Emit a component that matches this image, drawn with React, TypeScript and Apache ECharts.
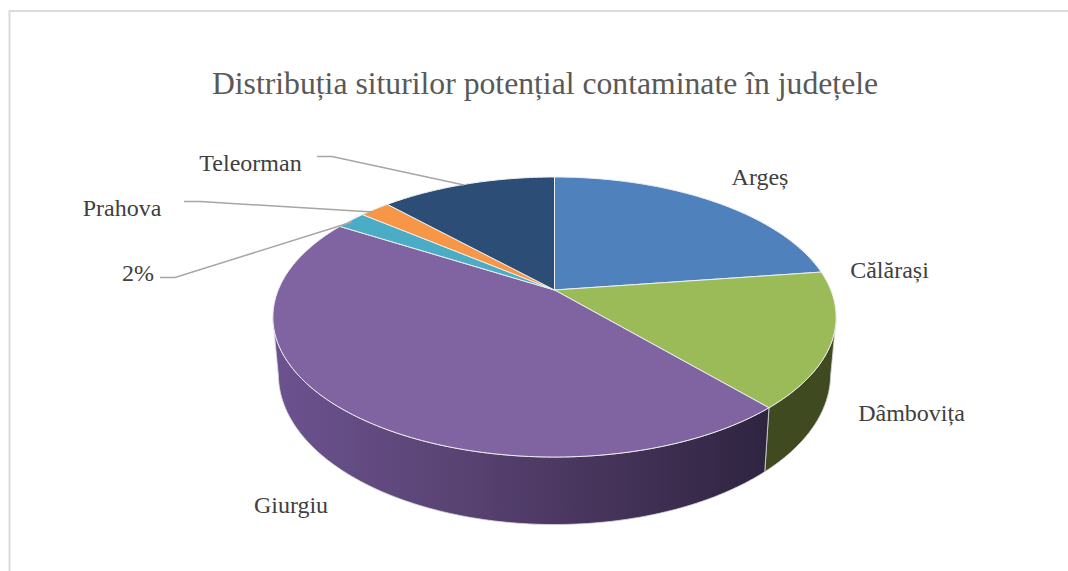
import React, { useEffect, useRef } from "react";
import * as echarts from "echarts";

const categories = ["Argeș", "Călărași", "Dâmbovița", "Giurgiu", "2%", "Prahova", "Teleorman"];
const values = [22.8, 0, 15.6, 45.2, 2.1, 2.1, 12.1];
const topColors = ["#4f81bd", "#c0504d", "#9bbb59", "#8064a2", "#4bacc6", "#f79646", "#2c4d75"];
const titleText = "Distribuția siturilor potențial contaminate în județele";

// label layout: [x, y, align]
const labelPos: [number, number, string][] = [
  [760, 177, "center"],
  [889.5, 270, "center"],
  [911.5, 413, "center"],
  [291, 505, "center"],
  [138, 273, "center"],
  [122, 208, "center"],
  [250.5, 163, "center"],
];
const leaders: number[][][] = [
  [[317, 156.5], [332, 156.5], [464, 185]],
  [[184, 201.5], [200, 201.5], [373, 212]],
  [[160, 277.5], [175, 277.5], [352, 222]],
];

// geometry of the tilted pie
const cx = 554.5;
const apexY = 290;
const A = 134.8;
const B = 276.3;
const K = 0.193;
const topRx = 281.5;
const topRy = 140;
const topCy = 317;
const botRx = 276;
const botRy = 150;
const botCy = 374.5;

const total = values.reduce((a, b) => a + b, 0);
function rangeOf(i: number): [number, number] {
  let s = 0;
  for (let j = 0; j < i; j++) s += values[j];
  return [(s / total) * Math.PI * 2, ((s + values[i]) / total) * Math.PI * 2];
}
function topPoint(th: number): [number, number] {
  const u = Math.sin(th);
  const v = Math.cos(th);
  const w = 1 + K * v;
  return [cx + (B * u) / w, apexY - (A * v) / w];
}
function botPoint(p: [number, number]): [number, number] {
  const c = (p[0] - cx) / topRx;
  const s = (p[1] - topCy) / topRy;
  return [cx + botRx * c, botCy + botRy * s];
}
function arcPoints(a: number, b: number): [number, number][] {
  const n = Math.max(2, Math.ceil(((b - a) * 180) / Math.PI));
  const out: [number, number][] = [];
  for (let i = 0; i <= n; i++) out.push(topPoint(a + ((b - a) * i) / n));
  return out;
}

const wallGradients: Record<number, any> = {
  2: "#3f4a21",
  3: new echarts.graphic.LinearGradient(0, 0, 1, 0, [
    { offset: 0, color: "#6c5290" },
    { offset: 0.35, color: "#5a4474" },
    { offset: 0.7, color: "#443258" },
    { offset: 1, color: "#2e2440" },
  ]),
};

const App = () => {
  const ref = useRef<HTMLDivElement>(null);
  useEffect(() => {
    const chart = echarts.init(ref.current!, null, { renderer: "svg" });
    chart.setOption({
      animation: false,
      backgroundColor: "#ffffff",
      title: {
        text: titleText,
        left: 540,
        top: 62,
        textAlign: "center",
        textStyle: { fontFamily: "Liberation Serif", fontSize: 31.7, fontWeight: "normal", color: "#595959" },
      },
      graphic: [
        {
          type: "polyline",
          shape: { points: [[9.5, 571], [9.5, 11], [1068, 11]] },
          style: { stroke: "#dcdcdc", lineWidth: 2, fill: "none" },
          silent: true,
        },
        ...leaders.map((pts) => ({
          type: "polyline",
          z: 20,
          shape: { points: pts },
          style: { stroke: "#a6a6a6", lineWidth: 1.5, fill: "none" },
          silent: true,
        })),
        ...categories.map((c, i) => ({
          type: "text",
          z: 20,
          x: labelPos[i][0],
          y: labelPos[i][1],
          style: {
            text: c,
            fill: "#404040",
            font: '24px "Liberation Serif"',
            align: labelPos[i][2],
            verticalAlign: "middle",
          },
          silent: true,
        })),
      ],
      series: [
        {
          type: "custom",
          name: "wall",
          coordinateSystem: "none",
          z: 2,
          silent: true,
          data: values.map((v) => [v]),
          renderItem: (params: any) => {
            const i = params.dataIndex;
            const wall = wallGradients[i];
            if (!wall) return { type: "group", children: [] };
            const [a, b] = rangeOf(i);
            const pts = arcPoints(a, b).filter((p) => p[1] >= topCy);
            const bottom = pts.map(botPoint).reverse();
            return {
              type: "polygon",
              shape: { points: [...pts, ...bottom] },
              style: { fill: wall, stroke: "#d8d8d8", lineWidth: 0.8 },
            };
          },
        },
        {
          type: "custom",
          name: "top",
          coordinateSystem: "none",
          z: 3,
          silent: true,
          data: values.map((v) => [v]),
          renderItem: (params: any, api: any) => {
            const i = params.dataIndex;
            if (!api.value(0)) return { type: "group", children: [] };
            const [a, b] = rangeOf(i);
            return {
              type: "polygon",
              shape: { points: [[cx, apexY], ...arcPoints(a, b)] },
              style: { fill: topColors[i], stroke: "#eeeeee", lineWidth: 1 },
            };
          },
        },
      ],
    });
    return () => chart.dispose();
  }, []);
  return <div ref={ref} style={{ position: "fixed", left: 0, top: 0, width: 1068, height: 571 }} />;
};

export default App;
